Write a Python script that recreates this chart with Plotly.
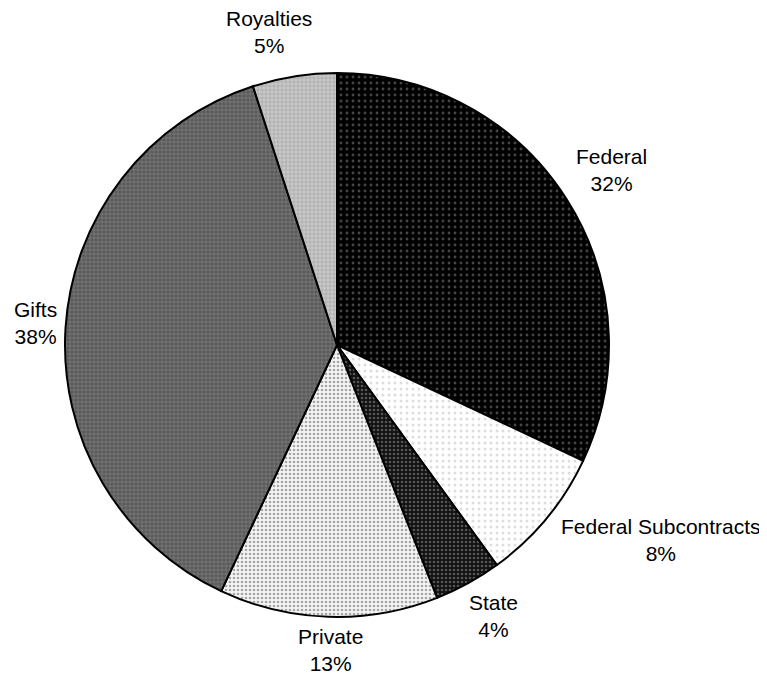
import plotly.graph_objects as go

labels = ["Federal", "Federal Subcontracts", "State", "Private", "Gifts", "Royalties"]
values = [32, 8, 4, 13, 38, 5]

bgcolors = ["#000000", "#ffffff", "#111111", "#f4f4f4", "#5a5a5a", "#c8c8c8"]
fgcolors = ["#8a8a8a", "#bbbbbb", "#9a9a9a", "#555555", "#aaaaaa", "#888888"]
shapes = [".", ".", ".", ".", "+", "+"]
sizes = [6, 6, 4, 4, 4, 4]
solid = [0.18, 0.2, 0.35, 0.35, 0.3, 0.35]

# label centre positions (page pixels; page body has 8px margin)
label_px = [(611, 170), (661, 540), (493, 616), (330, 650), (35, 323), (269, 32)]
W, H = 767, 677
OFF = 8

fig = go.Figure(go.Pie(
    labels=labels, values=values, sort=False, direction="clockwise", rotation=0,
    textinfo="none", hoverinfo="label+percent",
    marker=dict(
        colors=bgcolors,
        line=dict(color="black", width=2),
        pattern=dict(shape=shapes, fgcolor=fgcolors, bgcolor=bgcolors,
                     size=sizes, solidity=solid, fillmode="overlay"),
    ),
    domain=dict(x=[(65 - OFF) / W, (609 - OFF) / W],
                y=[1 - (617 - OFF) / H, 1 - (73 - OFF) / H]),
    showlegend=False,
))

for lab, v, (px, py) in zip(labels, values, label_px):
    fig.add_annotation(x=(px - OFF) / W, y=1 - (py - OFF) / H, xref="paper", yref="paper",
                       text=f"{lab}<br>{v}%", showarrow=False,
                       font=dict(family="Liberation Sans, Arial", size=21, color="black"),
                       align="center", xanchor="center", yanchor="middle")

fig.update_layout(width=W, height=H, margin=dict(l=0, r=0, t=0, b=0),
                  paper_bgcolor="white", plot_bgcolor="white")
fig.write_html("out.html")
